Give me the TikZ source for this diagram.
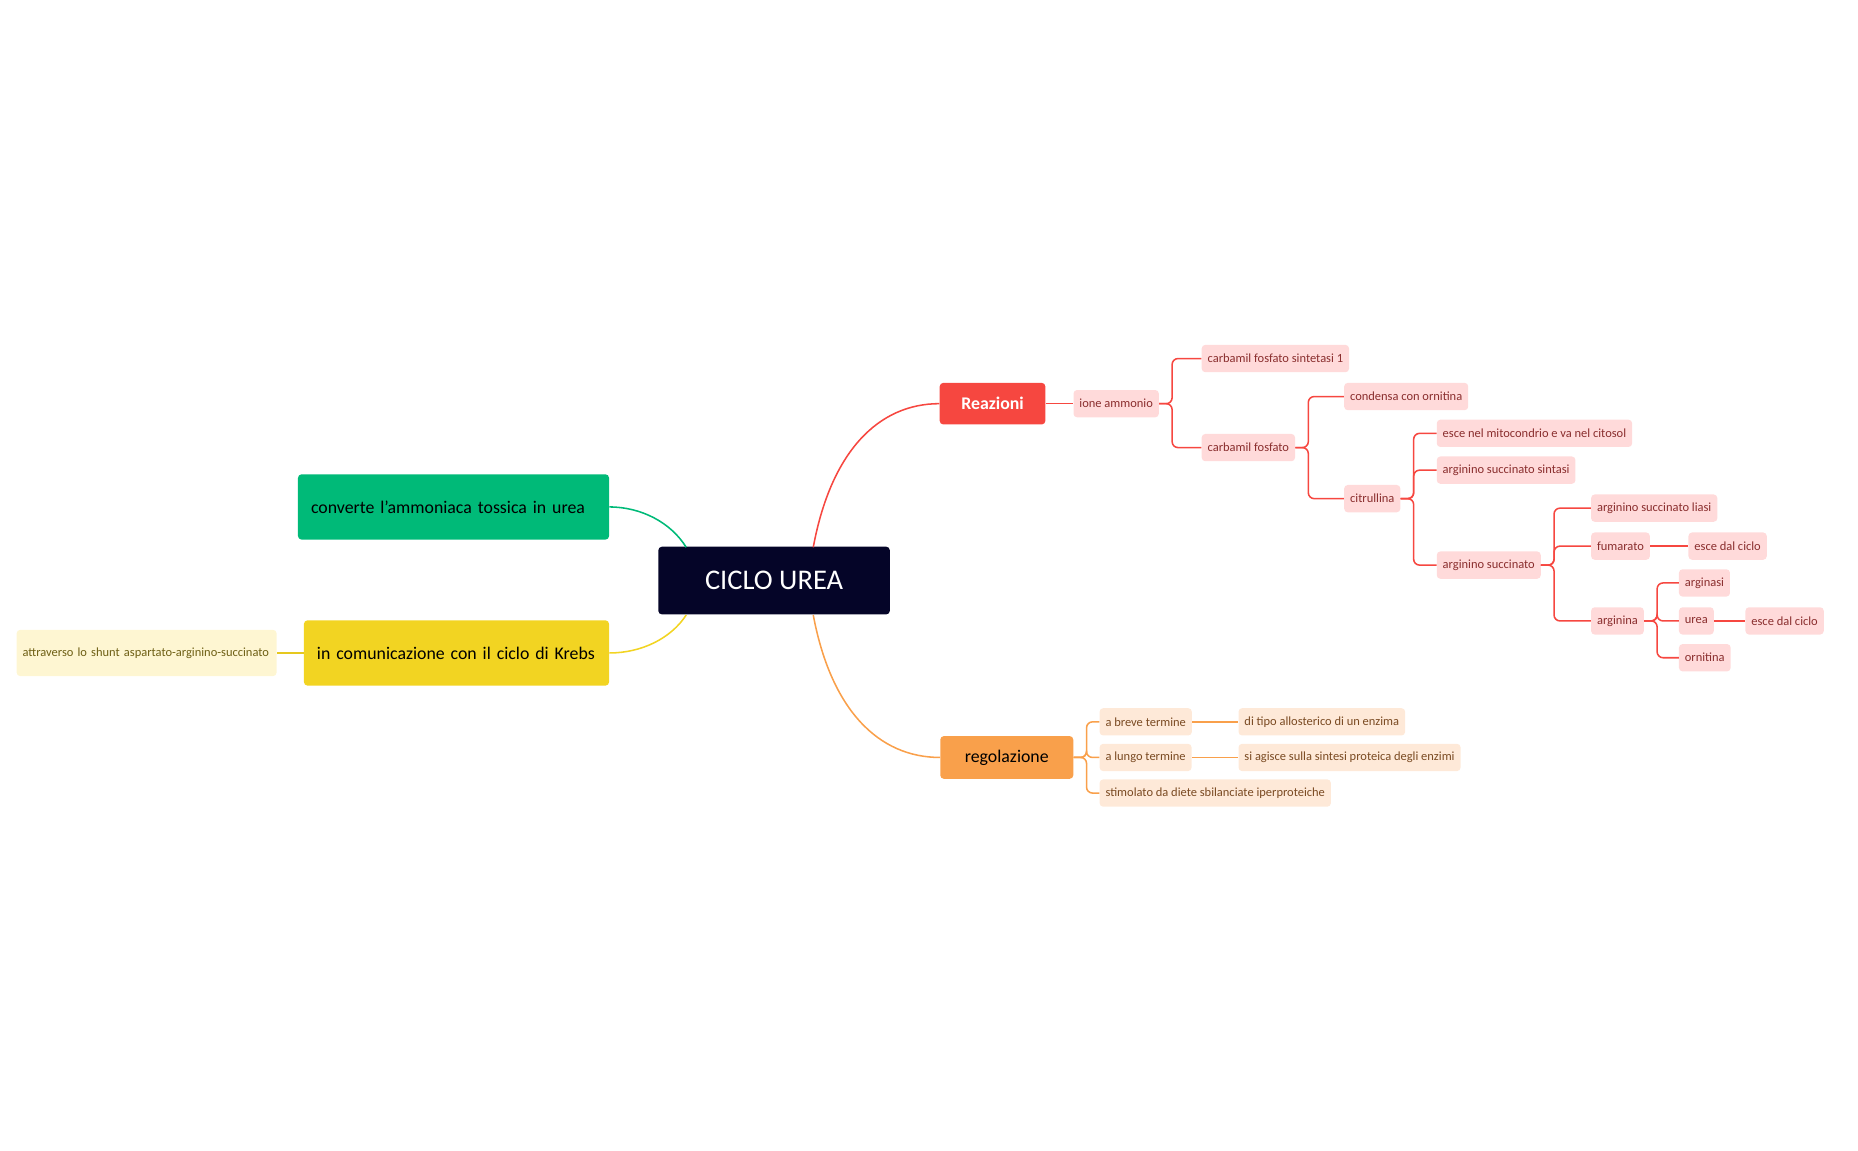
\documentclass[tikz,border=0pt]{standalone}
\usepackage{fontspec}
\setmainfont{Carlito}
\begin{document}
\begin{tikzpicture}[x=1pt,y=-1pt,
 rs/.style={fill=red!15!white,fill=rsf,text=rst,rounded corners=3,inner xsep=5,inner ysep=0,minimum height=23,anchor=west,font=\fontsize{10.5}{12}\selectfont},
 os/.style={rs,fill=osf,text=ost},
 rl/.style={draw=rl,line width=1.3,rounded corners=5},
 ol/.style={draw=ol,line width=1.3,rounded corners=5}]
\definecolor{rsf}{HTML}{FFDADA}\definecolor{rst}{HTML}{8A2E2E}
\definecolor{osf}{HTML}{FEE9D8}\definecolor{ost}{HTML}{7A4A22}
\definecolor{rl}{HTML}{F64740}\definecolor{ol}{HTML}{F9A04B}
\definecolor{gr}{HTML}{00BA78}\definecolor{ye}{HTML}{F2D422}
\useasboundingbox (0,0) rectangle (1565,969);
\node[fill=black!100!blue,fill={rgb,255:red,5;green,5;blue,40},text=white,rounded corners=3,minimum width=195,minimum height=57,font=\fontsize{24}{28}\selectfont] (c) at (652,489) {CICLO UREA};
\node[fill=rl,text=white,rounded corners=3,minimum width=89,minimum height=35,font=\fontsize{15}{18}\selectfont\bfseries] (r) at (836,340) {Reazioni};
\node[fill=ol,text=black,rounded corners=3,minimum width=112,minimum height=36,font=\fontsize{15}{18}\selectfont] (g) at (848,638) {regolazione};
\node[fill=gr,text=black,rounded corners=3,minimum width=262,minimum height=55,text width=240,align=left,font=\fontsize{15}{18}\selectfont] (v) at (382,427) {converte l'ammoniaca tossica in urea};
\node[fill=ye,text=black,rounded corners=3,minimum width=257,minimum height=55,text width=235,align=left,font=\fontsize{15}{18}\selectfont] (k) at (384.5,550) {in comunicazione con il ciclo di Krebs};
\node[fill={rgb,255:red,254;green,246;blue,210},text={rgb,255:red,110;green,95;blue,20},rounded corners=3,minimum width=219,minimum height=39,text width=209,align=left,font=\fontsize{10.5}{12}\selectfont] (a) at (123.5,550) {attraverso lo shunt aspartato-arginino-succinato};
\draw[line width=1.3,draw={rgb,255:red,230;green,200;blue,30}] (k.west) -- (a.east);
\draw[rl] (685,461) .. controls (700,380) and (740,340) .. (r.west);
\draw[ol] (685,518) .. controls (700,598) and (740,638) .. (g.west);
\draw[line width=1.3,draw=gr] (578,461) .. controls (565,440) and (540,427) .. (v.east);
\draw[line width=1.3,draw=ye] (578,518) .. controls (565,538) and (540,550) .. (k.east);
% red tree
\node[rs] (io) at (904,340) {ione ammonio};
\node[rs] (cs) at (1012,302) {carbamil fosfato sintetasi 1};
\node[rs] (cf) at (1012,377) {carbamil fosfato};
\node[rs] (co) at (1132,334) {condensa con ornitina};
\node[rs] (ci) at (1132,420) {citrullina};
\node[rs] (em) at (1210,365) {esce nel mitocondrio e va nel citosol};
\node[rs] (ass) at (1210,396) {arginino succinato sintasi};
\node[rs] (as) at (1210,476) {arginino succinato};
\node[rs] (al) at (1340,428) {arginino succinato liasi};
\node[rs] (fu) at (1340,460) {fumarato};
\node[rs] (e1) at (1422,460) {esce dal ciclo};
\node[rs] (ar) at (1340,523) {arginina};
\node[rs] (an) at (1414,491) {arginasi};
\node[rs] (ur) at (1414,523) {urea};
\node[rs] (e2) at (1470,523) {esce dal ciclo};
\node[rs] (or) at (1414,554) {ornitina};
\draw[rl] (r.east) -- (io.west);
\foreach \p/\c in {io/cs,io/cf,cf/co,cf/ci,ci/em,ci/ass,ci/as,as/al,as/fu,as/ar,ar/an,ar/ur,ar/or}
  \draw[rl] (\p.east) -- ([xshift=11]\p.east) |- (\c.west);
\draw[rl] (fu.east) -- (e1.west);
\draw[rl] (ur.east) -- (e2.west);
% orange tree
\node[os] (b1) at (926,608) {a breve termine};
\node[os] (b2) at (1043,608) {di tipo allosterico di un enzima};
\node[os] (l1) at (926,638) {a lungo termine};
\node[os] (l2) at (1043,638) {si agisce sulla sintesi proteica degli enzimi};
\node[os] (st) at (926,668) {stimolato da diete sbilanciate iperproteiche};
\foreach \c in {b1,l1,st}
  \draw[ol] (g.east) -- ([xshift=11]g.east) |- (\c.west);
\draw[ol] (b1.east) -- (b2.west);
\draw[ol] (l1.east) -- (l2.west);
\end{tikzpicture}
\end{document}
